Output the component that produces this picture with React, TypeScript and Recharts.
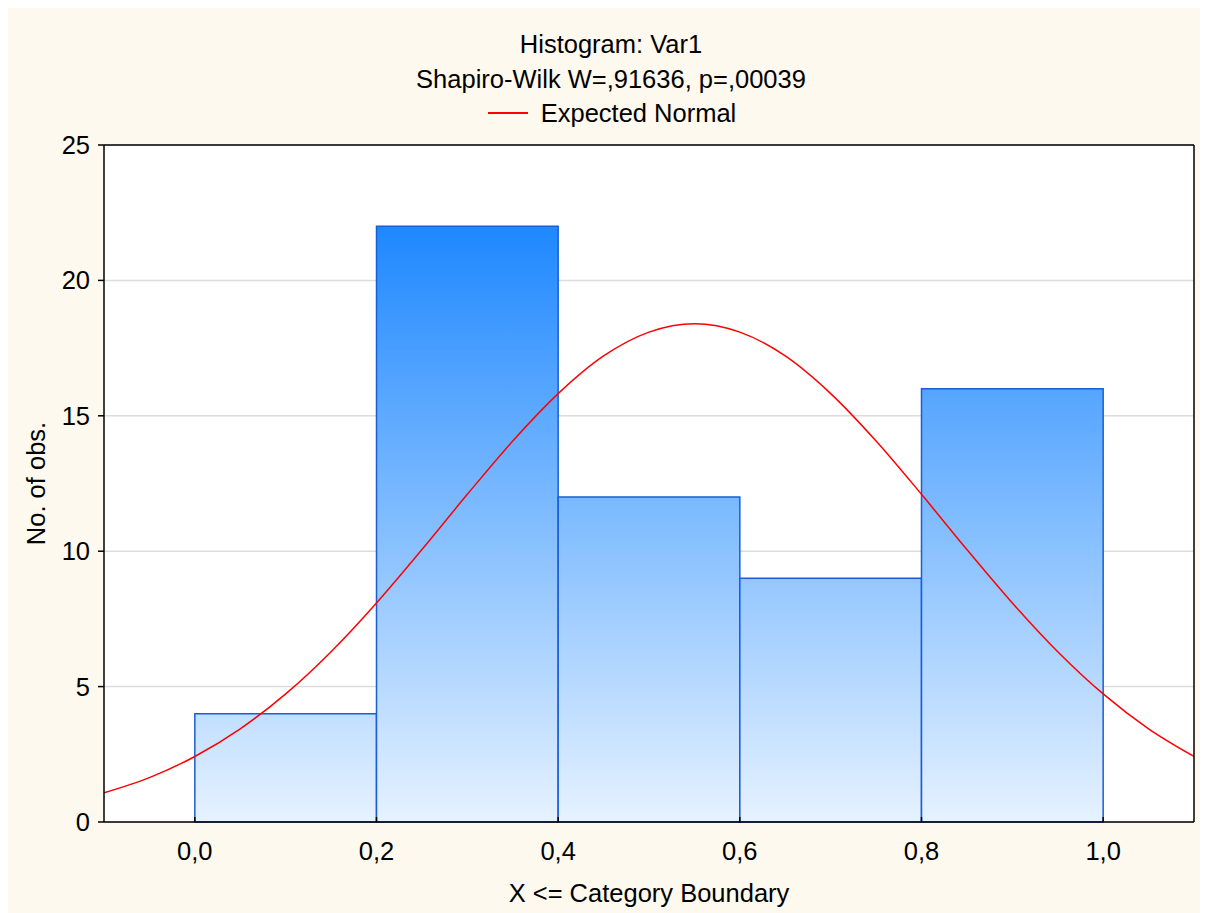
import {
  ComposedChart,
  Line,
  XAxis,
  YAxis,
  CartesianGrid,
  ReferenceArea,
  Legend,
} from "recharts";

// ─── Data ────────────────────────────────────────────────────────────────────

const BIN_EDGES = [0, 0.2, 0.4, 0.6, 0.8, 1.0];
const BIN_COUNTS = [4, 22, 12, 9, 16];

// expected normal curve
const CURVE_X = [
  -0.1, -0.05, 0, 0.05, 0.1, 0.15, 0.2, 0.25, 0.3, 0.35, 0.4, 0.45, 0.5,
  0.55, 0.6, 0.65, 0.7, 0.75, 0.8, 0.85, 0.9, 0.95, 1.0, 1.05, 1.1,
];
const CURVE_Y = [
  1.08, 1.64, 2.42, 3.44, 4.73, 6.29, 8.09, 10.06, 12.1, 14.07, 15.82, 17.21,
  18.09, 18.4, 18.09, 17.21, 15.82, 14.07, 12.1, 10.06, 8.09, 6.29, 4.73, 3.44,
  2.42,
];

const X_TICKS = [0, 0.2, 0.4, 0.6, 0.8, 1.0];
const Y_TICKS = [0, 5, 10, 15, 20, 25];

const TITLE = "Histogram: Var1";
const SUBTITLE = "Shapiro-Wilk W=,91636, p=,00039";
const LEGEND_LABEL = "Expected Normal";

// ─── Styles ──────────────────────────────────────────────────────────────────

const FONT = '"Liberation Sans", Arial, sans-serif';
const FONT_SIZE = 25.5;
const W = 1200;
const H = 905;
const BG = "#fdf9ee";
const BAR_STROKE = "#1a5ed6";
const CURVE_COLOR = "#ff0000";

const rows = CURVE_X.map((x, i) => ({ x, curve: CURVE_Y[i] }));
const fmtX = (v: number) => v.toFixed(1).replace(".", ",");

function LegendContent() {
  return (
    <div
      style={{
        display: "flex",
        alignItems: "center",
        justifyContent: "center",
        gap: 13,
        fontFamily: FONT,
        fontSize: FONT_SIZE,
        lineHeight: "28px",
        color: "#000",
        paddingLeft: 8,
      }}
    >
      <span
        style={{ width: 40, height: 0, borderTop: `2px solid ${CURVE_COLOR}` }}
      />
      <span>{LEGEND_LABEL}</span>
    </div>
  );
}

const titleStyle = {
  position: "absolute" as const,
  left: 0,
  width: W,
  paddingLeft: 6,
  boxSizing: "border-box" as const,
  textAlign: "center" as const,
  fontSize: FONT_SIZE,
  lineHeight: "28px",
  color: "#000",
};

export default function App() {
  return (
    <div
      style={{
        position: "relative",
        width: W,
        height: H,
        background: BG,
        fontFamily: FONT,
      }}
    >
      <div style={{ ...titleStyle, top: 22 }}>{TITLE}</div>
      <div style={{ ...titleStyle, top: 57 }}>{SUBTITLE}</div>

      <ComposedChart
        width={W}
        height={H}
        data={rows}
        margin={{ top: 131, right: 8, bottom: 11, left: 0 }}
        style={{ fontFamily: FONT }}
      >
        <defs>
          <linearGradient
            id="histFill"
            gradientUnits="userSpaceOnUse"
            x1="0"
            y1="218"
            x2="0"
            y2="814"
          >
            <stop offset="0%" stopColor="#1e88ff" />
            <stop offset="100%" stopColor="#e6f2ff" />
          </linearGradient>
        </defs>
        <CartesianGrid
          vertical={false}
          stroke="#dcdcdc"
          strokeWidth={1.5}
          fill="#ffffff"
          fillOpacity={1}
        />
        <XAxis
          dataKey="x"
          type="number"
          domain={[-0.1, 1.1]}
          ticks={X_TICKS}
          allowDataOverflow
          tickFormatter={fmtX}
          height={80}
          tickSize={-5}
          tickMargin={25}
          axisLine={{ stroke: "#000", strokeWidth: 1.5 }}
          tickLine={{ stroke: "#000", strokeWidth: 1.5 }}
          tick={{ fontSize: FONT_SIZE, fill: "#000", fontFamily: FONT }}
          label={{
            content: ({ viewBox }: any) => (
              <text
                x={viewBox.x + viewBox.width / 2}
                y={viewBox.y + 71}
                textAnchor="middle"
                dominantBaseline="central"
                fontSize={FONT_SIZE}
                fontFamily={FONT}
                fill="#000"
              >
                X &lt;= Category Boundary
              </text>
            ),
          }}
        />
        <XAxis
          xAxisId="top"
          orientation="top"
          type="number"
          domain={[-0.1, 1.1]}
          ticks={X_TICKS}
          allowDataOverflow
          height={6}
          tickSize={6}
          tick={false}
          axisLine={{ stroke: "#000", strokeWidth: 1.5 }}
          tickLine={{ stroke: "#000", strokeWidth: 1.5 }}
        />
        <YAxis
          type="number"
          domain={[0, 25]}
          ticks={Y_TICKS}
          width={96}
          tickSize={6}
          tickMargin={8}
          axisLine={{ stroke: "#000", strokeWidth: 1.5 }}
          tickLine={{ stroke: "#000", strokeWidth: 1.5 }}
          tick={{ fontSize: FONT_SIZE, fill: "#000", fontFamily: FONT }}
          label={{
            content: ({ viewBox }: any) => {
              const cx = viewBox.x + 28;
              const cy = viewBox.y + viewBox.height / 2;
              return (
                <text
                  x={cx}
                  y={cy}
                  transform={`rotate(-90, ${cx}, ${cy})`}
                  textAnchor="middle"
                  dominantBaseline="central"
                  fontSize={FONT_SIZE}
                  fontFamily={FONT}
                  fill="#000"
                >
                  No. of obs.
                </text>
              );
            },
          }}
        />
        <YAxis
          yAxisId="right"
          orientation="right"
          type="number"
          domain={[0, 25]}
          ticks={Y_TICKS}
          width={6}
          tickSize={6}
          tick={false}
          axisLine={{ stroke: "#000", strokeWidth: 1.5 }}
          tickLine={{ stroke: "#000", strokeWidth: 1.5 }}
        />

        {BIN_COUNTS.map((count, i) => (
          <ReferenceArea
            key={i}
            x1={BIN_EDGES[i]}
            x2={BIN_EDGES[i + 1]}
            y1={0}
            y2={count}
            fill="url(#histFill)"
            fillOpacity={1}
            stroke={BAR_STROKE}
            strokeWidth={1.5}
          />
        ))}

        <Line
          type="monotone"
          dataKey="curve"
          name={LEGEND_LABEL}
          stroke={CURVE_COLOR}
          strokeWidth={1.5}
          dot={false}
          activeDot={false}
          isAnimationActive={false}
        />
        <Legend
          verticalAlign="middle"
          content={<LegendContent />}
          wrapperStyle={{ top: 91, left: 0, width: W }}
        />
      </ComposedChart>
    </div>
  );
}
